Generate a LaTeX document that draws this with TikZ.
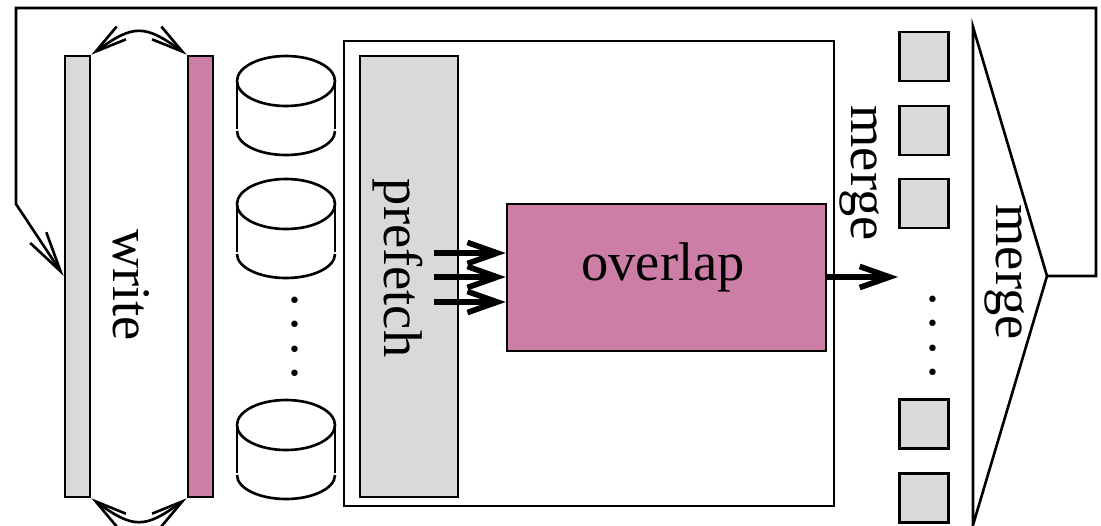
\documentclass[tikz,border=0pt]{standalone}
\usepackage{fontspec}
\setmainfont{Liberation Serif}
\usetikzlibrary{arrows.meta}
\definecolor{diskgray}{HTML}{D9D9D9}
\definecolor{mergepink}{HTML}{CC7EA6}

\begin{document}
\begin{tikzpicture}[x=0.02cm,y=-0.02cm,line width=1.5pt]
  \tikzset{>={Straight Barb[length=18pt,width=9pt,line width=1.5pt]}}
  \tikzset{label/.style={font=\fontsize{31}{32}\selectfont,inner sep=0,rotate=-90}}
  \tikzset{block/.style={draw,inner sep=0,minimum width=#1}}
  \tikzset{bar/.style={block=0.5cm,minimum height=8.82cm}}
  \tikzset{thickarrow/.style={->,line width=3.2pt,>={Straight Barb[length=17pt,width=12pt,line width=3.2pt]}}}
  \useasboundingbox (0,0) rectangle (1101,525);

  \node [bar,fill=diskgray]  (GrayBar) at (77.5,276.5) {};
  \node [bar,fill=mergepink] (PinkBar) at (200.5,276.5) {};
  \node [label] (WriteLabel) at (131,285) {write};
  \draw [<->] (GrayBar.north east) to [bend left=36,looseness=1.4] (PinkBar.north west);
  \draw [<->] (GrayBar.south east) to [bend right=36,looseness=1.4] (PinkBar.south west);

  \foreach \i/\y in {1/81,2/204,3/425} {
    \coordinate (Disk\i) at (286,\y);
    \draw (Disk\i) ellipse (49 and 25);
    \draw (237,\y) -- (237,\y+48);
    \draw (335,\y) -- (335,\y+48);
    \draw (237,\y+50) arc [start angle=180,end angle=360,x radius=49,y radius=-24];
  }
  \node [label] (DiskDots) at (295,337) {.\kern.2em.\kern.2em.\kern.2em.};

  \node [draw,minimum width=9.8cm,minimum height=9.3cm,inner sep=0] (MergeBox) at (589,273.5) {};
  \node [block=1.96cm,minimum height=8.82cm,fill=diskgray] (Prefetch) at (409,276.5) {};
  \node [label] (PrefetchLabel) at (397.5,268) {prefetch};
  \node [block=6.38cm,minimum height=2.94cm,fill=mergepink] (Overlap) at (666.5,277.5) {};
  \node [inner sep=0,font=\fontsize{31}{32}\selectfont] (OverlapLabel) at (663,267) {overlap};
  \node [label] (MergeLabel) at (860,173) {merge};

  \foreach \i/\y in {1/253,2/277,3/302} {
    \coordinate (FetchOut\i) at (434,\y);
    \draw [thickarrow] (FetchOut\i) -- (Overlap.west |- FetchOut\i);
  }

  \foreach \i/\y in {1/56.5,2/130.5,3/203.5,4/424,5/498} {
    \node [block=0.98cm,minimum height=0.98cm,fill=diskgray] (Run\i) at (924,\y) {};
  }
  \node [label] (RunDots) at (933,336) {.\kern.2em.\kern.2em.\kern.2em.};
  \coordinate (RunIn) at (898,277);
  \draw [thickarrow] (Overlap.east |- RunIn) -- (RunIn);

  \coordinate (FunnelTop) at (973,27);
  \coordinate (FunnelTip) at (1047,276);
  \coordinate (FunnelBottom) at (973,525);
  \draw (FunnelTip) -- (FunnelTop) -- (FunnelBottom) -- cycle;
  \node [label] (FunnelLabel) at (1005,272) {merge};

  \coordinate (LoopRight) at (1096,276);
  \coordinate (LoopTop) at (1096,8);
  \coordinate (LoopLeft) at (16,8);
  \coordinate (LoopDown) at (16,204);
  \draw [->,>={Straight Barb[length=23pt,width=11pt,line width=1.5pt]}] (FunnelTip) -- (LoopRight) -- (LoopTop) -- (LoopLeft) -- (LoopDown) -- (GrayBar.west |- FunnelTip);
\end{tikzpicture}
\end{document}
